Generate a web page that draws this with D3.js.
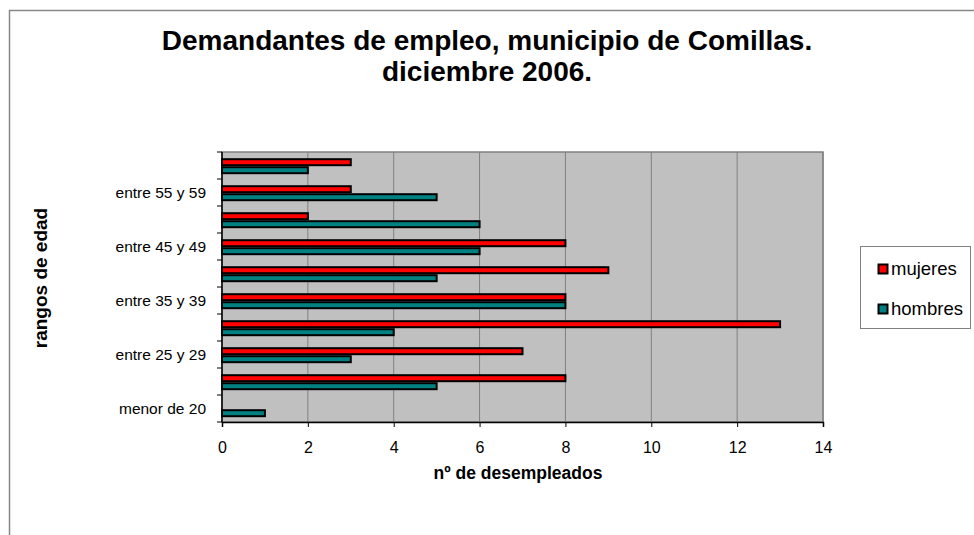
<!DOCTYPE html>
<html>
<head>
<meta charset="utf-8">
<script src="https://cdn.jsdelivr.net/npm/d3@7"></script>
<style>
  body { margin: 0; background: #fff; }
  svg { display: block; font-family: "Liberation Sans", Arial, sans-serif; }
</style>
</head>
<body>
<svg width="974" height="535"></svg>
<script>
// age groups, bottom to top
const categories = ['menor de 20', 'entre 20 y 24', 'entre 25 y 29', 'entre 30 y 34', 'entre 35 y 39',
    'entre 40 y 44', 'entre 45 y 49', 'entre 50 y 54', 'entre 55 y 59', 'entre 60 y 64'];
const mujeres = [0, 8, 7, 13, 8, 9, 8, 2, 3, 3];
const hombres = [1, 5, 3, 4, 8, 5, 6, 6, 5, 2];
const xTicks = [0, 2, 4, 6, 8, 10, 12, 14];
const shownLabels = ['menor de 20', 'entre 25 y 29', 'entre 35 y 39', 'entre 45 y 49', 'entre 55 y 59'];

const series = [
    {key: 'mujeres', values: mujeres, color: '#ff0000'},
    {key: 'hombres', values: hombres, color: '#008080'}
];

let svg = d3.select('svg');
let plot = {left: 222, right: 823, top: 152, bottom: 422};

// outer chart frame (runs off the right/bottom edge)
svg.append('rect')
    .attr('x', 9.5).attr('y', 10.5)
    .attr('width', 1000).attr('height', 600)
    .attr('fill', 'none').attr('stroke', '#888').attr('stroke-width', 1.5);

let x = d3.scaleLinear().domain([0, 14]).range([plot.left, plot.right]);
let y = d3.scaleBand().domain(categories).range([plot.bottom, plot.top]).padding(0);
let sub = d3.scaleBand().domain(series.map(d => d.key)).range([0.7, y.bandwidth() + 0.7]).paddingOuter(0.6875).paddingInner(0);

// plot background
svg.append('rect')
    .attr('x', plot.left).attr('y', plot.top)
    .attr('width', plot.right - plot.left).attr('height', plot.bottom - plot.top)
    .attr('fill', '#c0c0c0').attr('stroke', '#808080').attr('stroke-width', 1.5);

// gridlines
svg.append('g')
    .selectAll('line')
    .data(xTicks.slice(1))
    .join('line')
    .attr('x1', d => x(d)).attr('x2', d => x(d))
    .attr('y1', plot.top).attr('y2', plot.bottom)
    .attr('stroke', '#808080').attr('stroke-width', 1);

// bars
let groups = svg.append('g')
    .selectAll('g')
    .data(series)
    .join('g')
    .attr('fill', d => d.color);

groups.selectAll('rect')
    .data(d => d.values.map((v, i) => ({key: d.key, v: v, cat: categories[i]})))
    .join('rect')
    .filter(d => d.v > 0)
    .attr('x', x(0))
    .attr('y', d => y(d.cat) + sub(d.key) + 1)
    .attr('width', d => x(d.v) - x(0))
    .attr('height', sub.bandwidth() - 2)
    .attr('stroke', '#000').attr('stroke-width', 2);

// x axis
let xAxis = svg.append('g')
    .attr('transform', `translate(0,${plot.bottom})`)
    .call(d3.axisBottom(x).tickValues(xTicks).tickSize(5).tickPadding(15));
xAxis.select('.domain').attr('stroke', '#000').attr('stroke-width', 1.5);
xAxis.selectAll('.tick line').attr('stroke', '#000');
xAxis.selectAll('text').style('font-size', '16px').attr('fill', '#000')
    .style('font-family', '"Liberation Sans", Arial, sans-serif');

// y axis: ticks at category boundaries, labels on every other category
let yAxis = svg.append('g').attr('transform', `translate(${plot.left},0)`);
yAxis.append('line')
    .attr('y1', plot.top).attr('y2', plot.bottom)
    .attr('stroke', '#000').attr('stroke-width', 1.5);
yAxis.selectAll('line.tk')
    .data(categories.concat(['_end']))
    .join('line')
    .attr('class', 'tk')
    .attr('x1', -5).attr('x2', 0)
    .attr('y1', (d, i) => i < categories.length ? y(d) + y.bandwidth() : plot.top)
    .attr('y2', (d, i) => i < categories.length ? y(d) + y.bandwidth() : plot.top)
    .attr('stroke', '#000');
yAxis.selectAll('text')
    .data(shownLabels)
    .join('text')
    .attr('x', -16)
    .attr('y', d => y(d) + y.bandwidth() / 2)
    .attr('dy', '0.35em')
    .attr('text-anchor', 'end')
    .style('font-size', '15.5px')
    .text(d => d);

// titles
let title = svg.append('text')
    .attr('text-anchor', 'middle')
    .style('font-size', '28px').style('font-weight', 'bold');
title.append('tspan').attr('x', 487).attr('y', 50).text('Demandantes de empleo, municipio de Comillas.');
title.append('tspan').attr('x', 487).attr('y', 81).text('diciembre 2006.');

svg.append('text')
    .attr('x', 518).attr('y', 479)
    .attr('text-anchor', 'middle')
    .style('font-size', '17.5px').style('font-weight', 'bold')
    .text('nº de desempleados');

svg.append('text')
    .attr('transform', 'translate(47,278) rotate(-90)')
    .attr('text-anchor', 'middle')
    .style('font-size', '19px').style('font-weight', 'bold')
    .text('rangos de edad');

// legend
let legend = svg.append('g');
legend.append('rect')
    .attr('x', 860.5).attr('y', 246.5).attr('width', 110).attr('height', 82)
    .attr('fill', '#fff').attr('stroke', '#808080').attr('stroke-width', 1);
let items = legend.selectAll('g.item')
    .data(series)
    .join('g')
    .attr('class', 'item')
    .attr('transform', (d, i) => `translate(878,${269 + i * 40})`);
items.append('rect')
    .attr('x', 0.5).attr('y', -4.5).attr('width', 9).attr('height', 9)
    .attr('fill', d => d.color).attr('stroke', '#000').attr('stroke-width', 2);
items.append('text')
    .attr('x', 13).attr('dy', '0.35em')
    .style('font-size', '18.5px')
    .text(d => d.key);
</script>
</body>
</html>
